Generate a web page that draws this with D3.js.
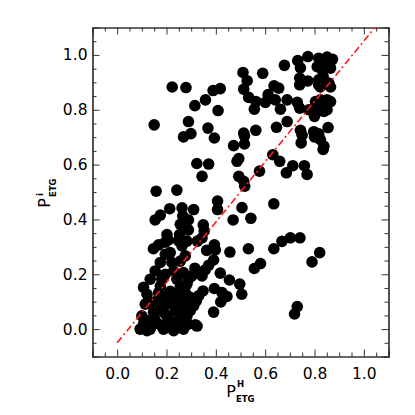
<!DOCTYPE html>
<html>
<head>
<meta charset="utf-8">
<script src="https://cdn.jsdelivr.net/npm/d3@7"></script>
<style>
  body { margin: 0; background: #fff; }
  svg text { font-family: "DejaVu Sans", sans-serif; fill: #000; }
</style>
</head>
<body>
<svg id="svg1" width="415" height="415"></svg>
<script>
// P_ETG^H (x) vs P_ETG^i (y)
var pH = [0.223,0.279,0.315,0.358,0.389,0.418,0.409,0.150,0.289,0.269,0.299,0.368,0.394,
  0.510,0.527,0.513,0.533,0.563,0.556,0.590,0.601,0.612,0.636,0.655,0.641,0.662,0.689,
  0.678,0.732,0.773,0.743,0.740,0.773,0.740,0.730,0.740,0.800,0.689,0.646,0.562,0.513,
  0.516,0.516,0.472,0.743,0.750,0.746,0.797,0.817,0.800,0.824,0.855,0.838,0.835,0.811,
  0.838,0.851,0.804,0.824,0.851,0.865,0.845,0.817,0.824,0.858,0.865,0.817,0.817,0.851,
  0.873,0.838,0.861,0.811,0.831,0.865,0.835,0.777,
  0.486,0.493,0.631,0.659,0.686,0.712,0.759,0.770,0.577,0.493,0.513,0.517,0.323,0.371,
  0.344,0.158,0.242,0.407,0.407,0.506,0.635,0.470,0.542,0.213,0.175,0.154,0.263,0.266,
  0.256,0.310,0.289,0.289,0.349,0.353,0.344,0.325,0.253,0.249,0.202,0.208,0.168,0.147,
  0.394,0.398,0.363,0.457,0.532,0.635,0.668,0.702,0.741,0.821,0.790,0.581,0.556,0.391,
  0.371,0.357,0.344,0.418,0.455,0.497,0.505,0.394,0.425,0.445,0.420,0.391,0.730,0.719,
  0.348,0.330,0.321,0.310,0.296,0.283,0.269,0.317,0.324,0.283,0.276,0.269,0.303,0.269,
  0.263,0.195,0.283,0.215,0.222,0.256,0.276,0.289,0.154,0.181,0.175,0.168,0.107,0.121,
  0.114,0.100,0.107,0.121,0.202,0.215,0.256,0.147,0.175,0.202,0.229,0.256,0.161,0.188,
  0.229,0.269,0.134,0.242,0.229,0.141,0.202,0.195,0.175,0.315,
  0.093,0.166,0.235,0.288,0.215,0.296,0.134,0.195,0.128,0.150,0.180,0.245,0.262,0.240,
  0.190,0.240,0.262,0.150,0.210,0.280,0.222,0.178,0.255,0.205];
var pI = [0.883,0.881,0.815,0.836,0.870,0.877,0.797,0.745,0.757,0.701,0.713,0.733,0.697,
  0.936,0.906,0.875,0.845,0.830,0.802,0.933,0.827,0.855,0.887,0.879,0.836,0.802,0.836,
  0.962,0.979,0.994,0.953,0.915,0.905,0.891,0.827,0.806,0.776,0.757,0.736,0.725,0.715,
  0.705,0.675,0.669,0.725,0.707,0.679,0.720,0.712,0.701,0.691,0.735,0.667,0.655,0.800,
  0.794,0.800,0.830,0.836,0.836,0.830,0.812,0.909,0.883,0.897,0.883,0.891,0.988,0.992,
  0.984,0.970,0.964,0.957,0.944,0.952,0.921,0.800,
  0.612,0.622,0.636,0.612,0.570,0.596,0.596,0.564,0.576,0.557,0.539,0.521,0.604,0.602,
  0.557,0.503,0.507,0.467,0.436,0.443,0.457,0.398,0.404,0.439,0.416,0.398,0.442,0.413,
  0.382,0.436,0.398,0.362,0.380,0.358,0.333,0.321,0.345,0.322,0.345,0.325,0.307,0.293,
  0.307,0.289,0.287,0.281,0.293,0.293,0.320,0.333,0.333,0.279,0.245,0.239,0.221,0.252,
  0.233,0.216,0.194,0.204,0.179,0.164,0.127,0.148,0.133,0.119,0.099,0.062,0.082,0.055,
  0.139,0.121,0.103,0.085,0.067,0.048,0.030,0.016,0.011,0.164,0.133,0.103,0.194,0.206,
  0.303,0.317,0.321,0.279,0.243,0.248,0.267,0.182,0.212,0.182,0.157,0.133,0.152,0.127,
  0.091,0.048,0.018,-0.006,0.121,0.097,0.157,0.061,0.073,0.048,0.024,0.036,0.024,0.000,
  -0.006,0.000,0.000,0.182,0.212,0.097,0.091,0.273,0.243,0.222,
  0.000,0.109,0.065,0.018,0.138,0.116,0.182,0.200,0.030,0.040,0.012,0.010,0.080,0.120,
  0.060,0.090,0.060,0.020,0.015,0.080,0.120,0.090,0.140,0.040];

// one-to-one reference line
var lineX = [0.0, 1.045];
var lineY = [-0.05, 1.1];

var tickValues = [0.0, 0.2, 0.4, 0.6, 0.8, 1.0];

var svg = d3.select("#svg1");

var plotLeft = 92.5, plotRight = 388.5, plotTop = 27.5, plotBottom = 356.5;

var scaleX = d3.scaleLinear().domain([-0.1, 1.1]).range([plotLeft, plotRight]);
var scaleY = d3.scaleLinear().domain([-0.1, 1.1]).range([plotBottom, plotTop]);

var minorTicks = d3.range(-0.05, 1.1, 0.05).map(function(d) { return Math.round(d * 100) / 100; })
                   .filter(function(d) { return tickValues.indexOf(d) < 0; });

var axisColor = "#333";

function drawAxis(axis, transform, cls) {
  svg.append("g")
     .attr("class", cls)
     .attr("transform", transform)
     .call(axis);
}

// major ticks with labels on bottom/left, mirrored ticks on top/right
drawAxis(d3.axisBottom(scaleX).tickValues(tickValues).tickSize(-7).tickPadding(11)
           .tickFormat(d3.format(".1f")), "translate(0," + plotBottom + ")", "ax xb");
drawAxis(d3.axisBottom(scaleX).tickValues(minorTicks).tickSize(-4).tickFormat(""),
         "translate(0," + plotBottom + ")", "ax");
drawAxis(d3.axisTop(scaleX).tickValues(tickValues).tickSize(-7).tickFormat(""),
         "translate(0," + plotTop + ")", "ax");
drawAxis(d3.axisTop(scaleX).tickValues(minorTicks).tickSize(-4).tickFormat(""),
         "translate(0," + plotTop + ")", "ax");
drawAxis(d3.axisLeft(scaleY).tickValues(tickValues).tickSize(-7).tickPadding(4)
           .tickFormat(d3.format(".1f")), "translate(" + plotLeft + ",0)", "ax yl");
drawAxis(d3.axisLeft(scaleY).tickValues(minorTicks).tickSize(-4).tickFormat(""),
         "translate(" + plotLeft + ",0)", "ax");
drawAxis(d3.axisRight(scaleY).tickValues(tickValues).tickSize(-7).tickFormat(""),
         "translate(" + plotRight + ",0)", "ax");
drawAxis(d3.axisRight(scaleY).tickValues(minorTicks).tickSize(-4).tickFormat(""),
         "translate(" + plotRight + ",0)", "ax");

svg.selectAll(".ax .domain").attr("stroke", axisColor).attr("stroke-width", 1.2);
svg.selectAll(".ax .tick line").attr("stroke", axisColor).attr("stroke-width", 1);
svg.selectAll(".ax text").attr("font-size", 15.5).attr("font-family", "DejaVu Sans").attr("fill", "#000");
svg.selectAll(".yl text").attr("dx", -1);

// points
var pts = pH.map(function(d, i) { return { x: d, y: pI[i] }; });

svg.selectAll(".dot")
   .data(pts)
   .enter()
   .append("circle")
     .attr("class", "dot")
     .attr("cx", function(d) { return scaleX(d.x); })
     .attr("cy", function(d) { return scaleY(d.y); })
     .attr("r", 5.8)
     .attr("fill", "#000");

// red dash-dot line
svg.append("path")
   .datum(lineX.map(function(d, i) { return [d, lineY[i]]; }))
   .attr("d", d3.line()
                .x(function(d) { return scaleX(d[0]); })
                .y(function(d) { return scaleY(d[1]); }))
   .attr("fill", "none")
   .attr("stroke", "#ff1a1a")
   .attr("stroke-width", 1.6)
   .attr("stroke-dasharray", "7,3,2,3");

// axis titles
var xt = svg.append("g").attr("transform", "translate(236,397)");
xt.append("text").attr("text-anchor", "end").attr("font-size", 16).text("P");
xt.append("text").attr("x", 1).attr("y", -10).attr("font-size", 8.5).attr("font-weight", "bold").text("H");
xt.append("text").attr("x", 0).attr("y", 5).attr("font-size", 8.5).attr("font-weight", "bold").text("ETG");

var yt = svg.append("g").attr("transform", "translate(50,193) rotate(-90)");
yt.append("text").attr("x", -5).attr("text-anchor", "end").attr("font-size", 16).text("P");
yt.append("text").attr("x", -3).attr("y", -7).attr("font-size", 8.5).attr("font-weight", "bold").text("i");
yt.append("text").attr("x", -4).attr("y", 6).attr("font-size", 8.5).attr("font-weight", "bold").text("ETG");
</script>
</body>
</html>
